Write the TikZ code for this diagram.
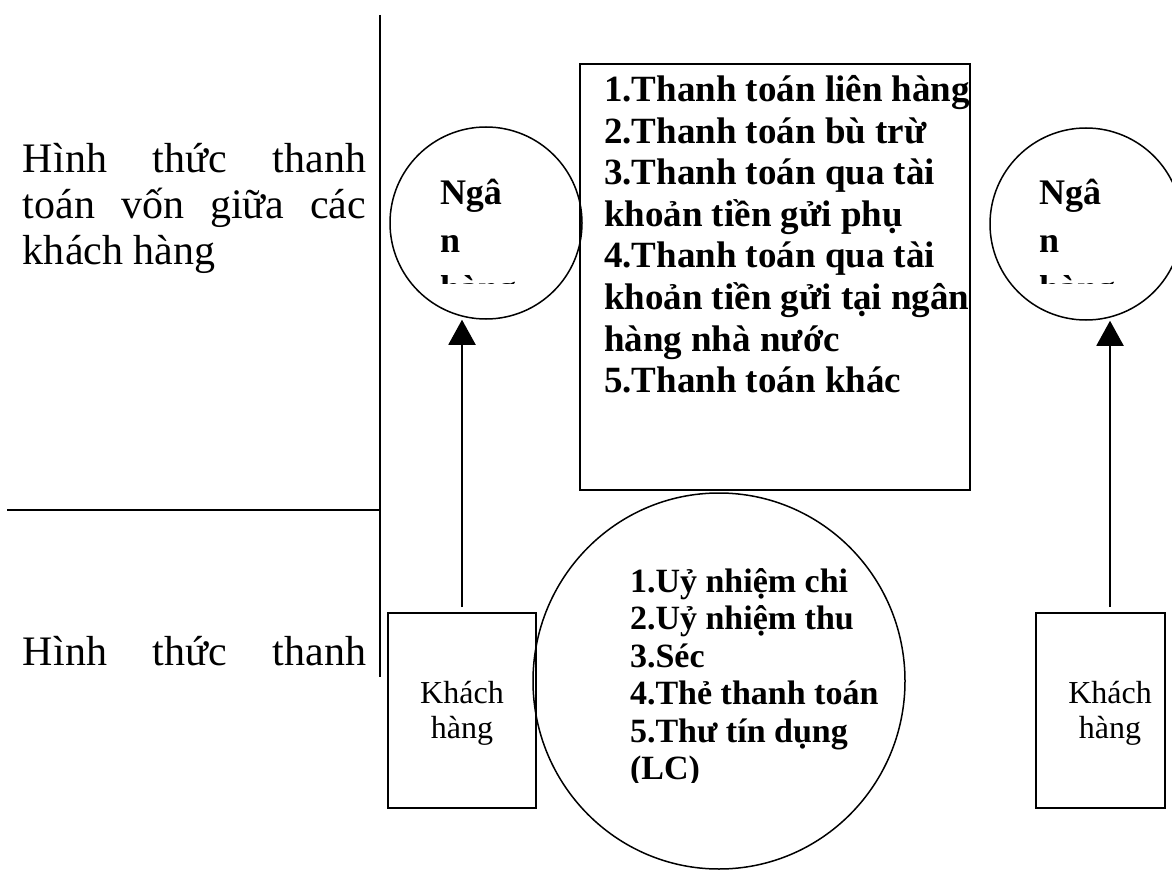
\documentclass[tikz,border=0pt]{standalone}
\usepackage{fontspec}
\setmainfont{Liberation Serif}
\usetikzlibrary{shapes.geometric,arrows.meta}

\begin{document}
\begin{tikzpicture}[%
        x = 1pt, y = -1pt,
        line width = 2pt,
        box/.style = {draw, rectangle, inner sep=0pt},
        bank/.style = {draw, circle, line width=1.5pt, inner sep=0pt, minimum size=192pt},
        side/.style = {font=\fontsize{42}{46}\selectfont, inner sep=0pt, anchor=base west},
        list/.style = {font=\bfseries\fontsize{37}{41.5}\selectfont, inner sep=0pt, anchor=base west},
        tool/.style = {font=\bfseries\fontsize{34}{38}\selectfont, inner sep=0pt, anchor=base west},
        word/.style = {font=\bfseries\fontsize{36}{46}\selectfont, inner sep=0pt, anchor=base west},
        cust/.style = {font=\fontsize{32}{35}\selectfont, inner sep=0pt, anchor=base},
        up/.style = {-{Triangle[width=27pt,length=25pt]}}
    ]
      \useasboundingbox (0,0) rectangle (1172,877);
      % dividing lines
      \coordinate (top) at (380,15);
      \coordinate (bot) at (380,677);
      \coordinate (mid) at (380,510);
      \coordinate (lft) at (7,510);
      \draw (top) -- (bot);
      \draw (lft) -- (mid);
      \node[side] (f1) at (22,173) {\makebox[343pt][s]{Hình thức thanh}};
      \node[side] (f2) at (22,219) {\makebox[343pt][s]{toán vốn giữa các}};
      \node[side] (f3) at (22,265) {khách hàng};
      \node[side] (f4) at (22,665) {\makebox[343pt][s]{Hình thức thanh}};
      % banks
      \node[bank] (ng1) at (486,223) {};
      \node[bank] (ng2) at (1086,224) {};
      \begin{scope}
        \clip (430,150) rectangle (585,284);
        \foreach \s [count=\i] in {Ngâ, n, hàng}
          \node[word] (p\i) at (439, {205+48*(\i-1)}) {\s};
      \end{scope}
      \begin{scope}
        \clip (1030,150) rectangle (1172,284);
        \foreach \s [count=\i] in {Ngâ, n, hàng}
          \node[word] (q\i) at (1038, {205+48*(\i-1)}) {\s};
      \end{scope}
      % interbank payments
      \node[box, minimum width=390pt, minimum height=426pt] (lh) at (775,277) {};
      \foreach \s [count=\i] in {1.Thanh toán liên hàng, 2.Thanh toán bù trừ,
          3.Thanh toán qua tài, khoản tiền gửi phụ, 4.Thanh toán qua tài,
          khoản tiền gửi tại ngân, hàng nhà nước, 5.Thanh toán khác}
        \node[list] (l\i) at (603, {102+41.5*(\i-1)}) {\s};
      % customer payments
      \node[draw, ellipse, line width=1.5pt, inner sep=0pt, minimum width=372pt, minimum height=376pt] (kh) at (719,681) {};
      \begin{scope}
        \clip (600,540) rectangle (900,782);
        \foreach \s [count=\i] in {1.Uỷ nhiệm chi, 2.Uỷ nhiệm thu, 3.Séc,
            4.Thẻ thanh toán, 5.Thư tín dụng, (LC)}
          \node[tool] (m\i) at (629, {592+37.5*(\i-1)}) {\s};
      \end{scope}
      % customers
      \node[box, minimum width=148pt, minimum height=195pt] (kh1) at (462,710.5) {};
      \node[box, minimum width=129pt, minimum height=195pt] (kh2) at (1100.5,710.5) {};
      \node[cust] (c1) at (462,703) {Khách};
      \node[cust] (c2) at (462,738) {hàng};
      \node[cust] (c3) at (1110,703) {Khách};
      \node[cust] (c4) at (1110,738) {hàng};
      \coordinate (a1) at (462,607);
      \coordinate (a2) at (1110,607);
      \draw[up] (a1) -- (a1 |- ng1.south);
      \draw[up] (a2) -- (a2 |- ng2.south);
\end{tikzpicture}
\end{document}
